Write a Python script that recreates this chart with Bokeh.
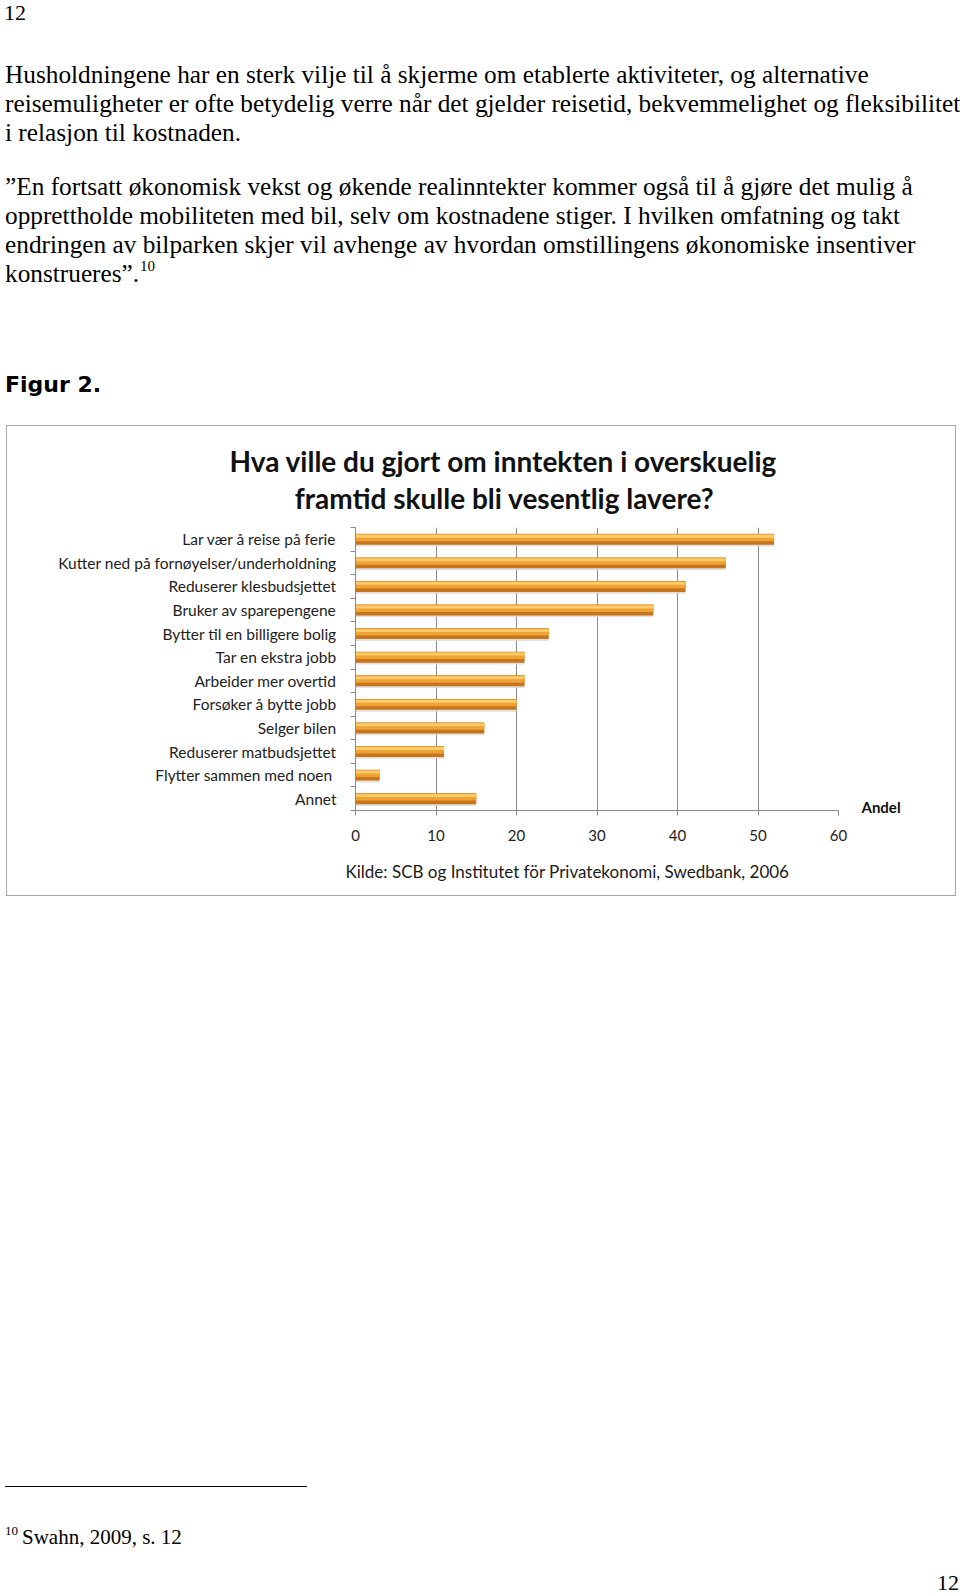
import html
from bokeh.plotting import figure
from bokeh.layouts import column
from bokeh.models import FixedTicker, ColumnDataSource, Title, LinearAxis, Div
from bokeh.embed import file_html
from bokeh.resources import INLINE

# ---------------- data ----------------
categories = [
    "Lar vær å reise på ferie",
    "Kutter ned på fornøyelser/underholdning",
    "Reduserer klesbudsjettet",
    "Bruker av sparepengene",
    "Bytter til en billigere bolig",
    "Tar en ekstra jobb",
    "Arbeider mer overtid",
    "Forsøker å bytte jobb",
    "Selger bilen",
    "Reduserer matbudsjettet",
    "Flytter sammen  med noen",
    "Annet",
]
andel = [52, 46, 41, 37, 24, 21, 21, 20, 16, 11, 3, 15]
x_ticks = [0, 10, 20, 30, 40, 50, 60]

chart_title_1 = "Hva ville du gjort om inntekten i overskuelig"
chart_title_2 = "framtid skulle bli vesentlig lavere?"
x_label = "Andel"
source_text = "Kilde: SCB og Institutet för Privatekonomi, Swedbank, 2006"

page_number = "12"
para1 = [
    "Husholdningene har en sterk vilje til å skjerme om etablerte aktiviteter, og alternative",
    "reisemuligheter er ofte betydelig verre når det gjelder reisetid, bekvemmelighet og fleksibilitet",
    "i relasjon til kostnaden.",
]
para2 = [
    "\u201dEn fortsatt økonomisk vekst og økende realinntekter kommer også til å gjøre det mulig å",
    "opprettholde mobiliteten med bil, selv om kostnadene stiger. I hvilken omfatning og takt",
    "endringen av bilparken skjer vil avhenge av hvordan omstillingens økonomiske insentiver",
    "konstrueres\u201d.",
]
footnote_mark = "10"
figure_caption = "Figur 2."
footnote_text = "Swahn, 2009, s. 12"

SERIF = "'Liberation Serif', 'Times New Roman', serif"
SANS_B = "'DejaVu Sans', sans-serif"


def line_html(text, left, baseline, size, family, weight="normal", align="left", asc=0.84):
    top = baseline - asc * size
    if align == "right":
        pos = f"right:{960 - left}px;text-align:right;"
    else:
        pos = f"left:{left}px;"
    return (f'<div style="position:absolute;{pos}top:{top:.1f}px;font-size:{size}px;'
            f'line-height:{size}px;font-family:{family};font-weight:{weight};'
            f'white-space:nowrap;color:#000;">{html.escape(text)}</div>')


# ---------------- page head (HTML text) ----------------
BODY = 25.3
head_parts = [line_html(page_number, 4, 20, 22, SERIF)]
for t, b in zip(para1, [83, 112, 141]):
    head_parts.append(line_html(t, 5, b, BODY, SERIF))
for t, b in zip(para2, [195, 224, 253, 282]):
    head_parts.append(line_html(t, 5, b, BODY, SERIF))
head_parts.append(line_html(footnote_mark, 140, 272, 15, SERIF))
head_parts.append(line_html(figure_caption, 5, 393, 22, SANS_B, weight="bold", asc=0.85))
head = Div(text='<div style="position:relative;width:960px;height:425px;">' + "".join(head_parts) + "</div>",
           width=960, height=425, margin=(0, 0, 0, 0))

# ---------------- chart ----------------
n = len(categories)
ypos = [n - i - 0.5 for i in range(n)]
src = ColumnDataSource(dict(cat=categories, val=andel, y=ypos,
                            ysh=[v - 0.06 for v in ypos],
                            yhi=[v + 0.07 for v in ypos],
                            yhi2=[v + 0.13 for v in ypos]))

FRAME_L, FRAME_R = 348, 831          # frame edges inside the chart box (px)
X_MAX = x_ticks[-1]
chart = figure(width=950, height=471, x_range=(0, X_MAX), y_range=(0, n),
               output_backend="svg", toolbar_location=None,
               min_border_left=FRAME_L, min_border_right=950 - FRAME_R,
               min_border_top=101, min_border_bottom=87,
               margin=(0, 0, 0, 6),
               styles={"border": "1px solid #a8a8a8"})
chart.outline_line_color = None
chart.background_fill_color = "white"
chart.border_fill_color = "white"

# grid
chart.ygrid.visible = False
chart.xgrid.ticker = FixedTicker(ticks=x_ticks)
chart.xgrid.grid_line_color = "#8a8a8a"
chart.xgrid.grid_line_width = 1

# bars (cylinder look with soft shadow)
chart.hbar(y="ysh", right="val", left=0, height=0.5, source=src,
           fill_color="#d9d9d9", line_color=None, fill_alpha=0.8)
chart.hbar(y="y", right="val", left=0, height=0.46, source=src,
           fill_color="#c7741d", line_color=None)
chart.hbar(y="yhi", right="val", left=0, height=0.3, source=src,
           fill_color="#efa235", line_color=None)
chart.hbar(y="yhi2", right="val", left=0, height=0.12, source=src,
           fill_color="#fbcd6a", line_color=None)

# axes
FONT = "Lato"
xa = chart.xaxis[0]
xa.ticker = FixedTicker(ticks=x_ticks)
xa.axis_line_color = "#8a8a8a"
xa.major_tick_line_color = "#8a8a8a"
xa.major_tick_out = 5
xa.major_tick_in = 0
xa.minor_tick_line_color = None
xa.major_label_standoff = 14
xa.major_label_text_font = FONT
xa.major_label_text_font_size = "15px"
xa.major_label_text_color = "#222222"

ya = chart.yaxis[0]
ya.ticker = FixedTicker(ticks=ypos, minor_ticks=list(range(n + 1)))
ya.major_label_overrides = {float(y): c for y, c in zip(ypos, categories)}
ya.axis_line_color = "#8a8a8a"
ya.major_tick_line_color = None
ya.major_tick_out = 0
ya.major_tick_in = 0
ya.minor_tick_line_color = "#8a8a8a"
ya.minor_tick_out = 5
ya.minor_tick_in = 0
ya.major_label_standoff = 14
ya.major_label_text_font = FONT
ya.major_label_text_font_size = "15.5px"
ya.major_label_text_color = "#222222"

# "Andel" placed at the end of the value axis (right-hand axis with a single label)
andel_pos = 0.15
ra = LinearAxis(ticker=FixedTicker(ticks=[andel_pos]), major_label_overrides={andel_pos: x_label})
ra.axis_line_color = None
ra.major_tick_line_color = None
ra.minor_tick_line_color = None
ra.major_tick_out = 0
ra.major_tick_in = 0
ra.major_label_standoff = 23
ra.major_label_text_font = FONT
ra.major_label_text_font_style = "bold"
ra.major_label_text_font_size = "15px"
ra.major_label_text_color = "#111111"
chart.add_layout(ra, "right")

# Chart title: second line as a single-label axis above the plot (centred 149 px right
# of the frame's left edge), first line as a Title above that.
title_center = 149 / (FRAME_R - FRAME_L) * X_MAX
ta = LinearAxis(ticker=FixedTicker(ticks=[title_center]),
                major_label_overrides={title_center: chart_title_2})
ta.axis_line_color = None
ta.major_tick_line_color = None
ta.minor_tick_line_color = None
ta.major_tick_out = 0
ta.major_tick_in = 0
ta.major_label_standoff = 13
ta.major_label_text_font = FONT
ta.major_label_text_font_style = "bold"
ta.major_label_text_font_size = "28px"
ta.major_label_text_color = "#111111"
chart.add_layout(ta, "above")

chart.add_layout(Title(text=chart_title_1, align="left", offset=-126, standoff=0,
                       text_font=FONT, text_font_style="bold", text_font_size="28px",
                       text_color="#111111"), "above")
chart.add_layout(Title(text=source_text, align="left", offset=-10, standoff=30,
                       text_font=FONT, text_font_style="normal", text_font_size="17px",
                       text_color="#1a1a1a"), "below")

# ---------------- page foot (HTML text) ----------------
FOOT_TOP = 898
foot_parts = [
    f'<div style="position:absolute;left:5px;top:{1489 - FOOT_TOP - 0.75}px;width:302px;'
    f'height:0;border-top:1.5px solid #000;"></div>',
    line_html(footnote_mark, 5, 1537 - FOOT_TOP, 13, SERIF),
    line_html(footnote_text, 22, 1547 - FOOT_TOP, 21, SERIF),
    line_html(page_number, 959, 1592 - FOOT_TOP, 22, SERIF, align="right"),
]
foot = Div(text='<div style="position:relative;width:960px;height:698px;">' + "".join(foot_parts) + "</div>",
           width=960, height=698, margin=(0, 0, 0, 0))

layout = column(head, chart, foot, spacing=0)
with open("out.html", "w", encoding="utf-8") as f:
    f.write(file_html(layout, INLINE))
